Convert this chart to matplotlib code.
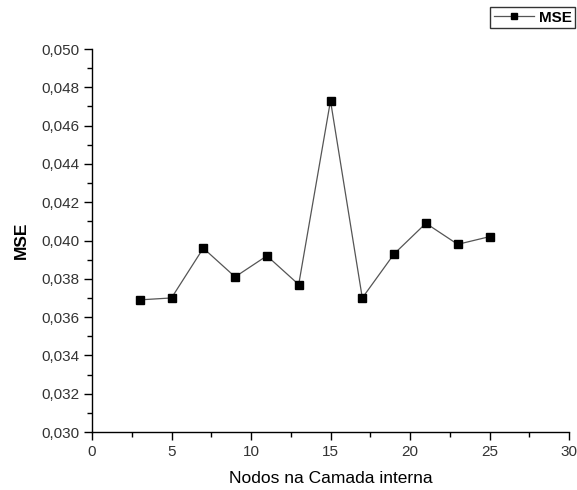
import matplotlib.pyplot as plt
from matplotlib.ticker import MultipleLocator, FuncFormatter

# nós na camada interna e erro médio quadrático
nodos = [3, 5, 7, 9, 11, 13, 15, 17, 19, 21, 23, 25]
mse = [0.0369, 0.0370, 0.0396, 0.0381, 0.0392, 0.0377, 0.0473, 0.0370,
       0.0393, 0.0409, 0.0398, 0.0402]

plt.rcParams['font.family'] = ['Liberation Sans', 'DejaVu Sans']

fig = plt.figure(figsize=(5.77, 4.9), dpi=100)
ax = fig.add_axes([92 / 577, 1 - 432 / 490, (569 - 92) / 577, (432 - 49) / 490])

ax.plot(nodos, mse, color='#555555', lw=0.9, marker='s', markersize=6,
        markerfacecolor='black', markeredgecolor='black', label='MSE')

ax.set_xlim(0, 30)
ax.set_ylim(0.030, 0.050)
ax.xaxis.set_major_locator(MultipleLocator(5))
ax.xaxis.set_minor_locator(MultipleLocator(2.5))
ax.yaxis.set_major_locator(MultipleLocator(0.002))
ax.yaxis.set_minor_locator(MultipleLocator(0.001))
ax.yaxis.set_major_formatter(FuncFormatter(lambda v, p: f'{v:.3f}'.replace('.', ',')))

for s in ['top', 'right']:
    ax.spines[s].set_visible(False)
for s in ['left', 'bottom']:
    ax.spines[s].set_linewidth(1.0)

ax.tick_params(which='major', direction='out', length=6, width=1, labelsize=11,
               labelcolor='#333333')
ax.tick_params(which='minor', direction='out', length=3.5, width=1)
ax.tick_params(axis='x', pad=3)
ax.tick_params(axis='y', pad=3)

ax.set_xlabel('Nodos na Camada interna', fontsize=12.5, labelpad=9)
ax.set_ylabel('MSE', fontsize=12.5, fontweight='bold', labelpad=9)

leg = fig.legend(loc='upper right', bbox_to_anchor=(0.997, 0.986), frameon=True,
                 fancybox=False, edgecolor='black', handlelength=2.6,
                 borderpad=0.25, handletextpad=0.3, borderaxespad=0, markerscale=0.75,
                 prop={'weight': 'bold', 'size': 11})
leg.get_frame().set_linewidth(1.0)

fig.savefig('out.png', dpi=100)
